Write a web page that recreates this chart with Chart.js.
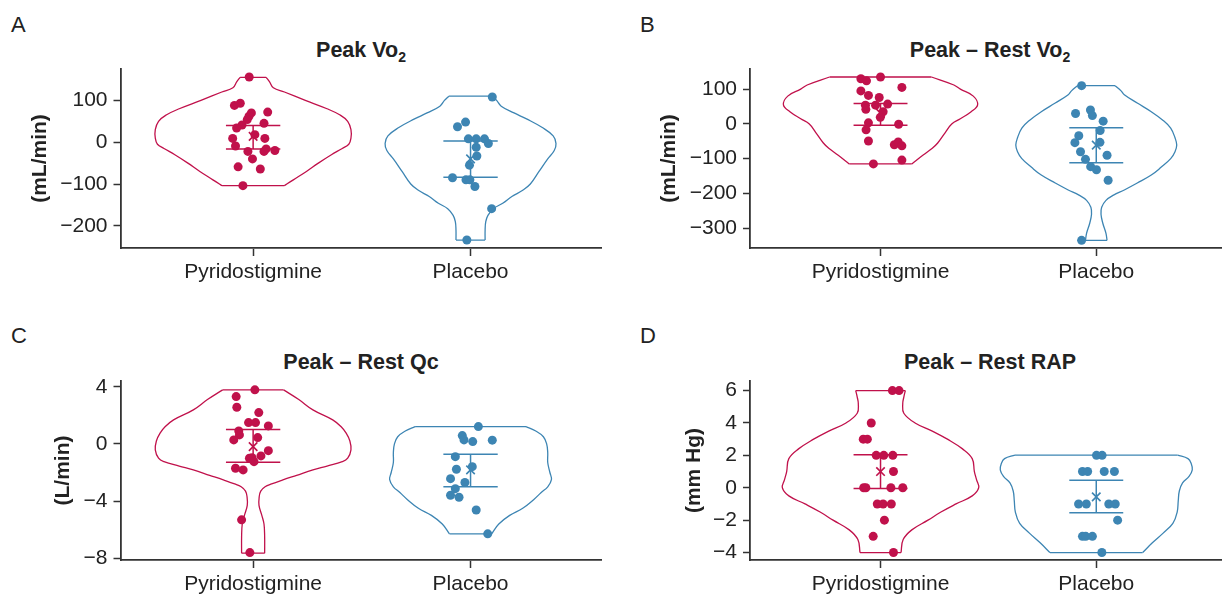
<!DOCTYPE html>
<html>
<head>
<meta charset="utf-8">
<title>Violin plots</title>
<script src="https://cdn.jsdelivr.net/npm/chart.js@4.4.1/dist/chart.umd.min.js"></script>
<style>
  html, body { margin: 0; padding: 0; background: #fff; }
  body { width: 1229px; height: 598px; position: relative; overflow: hidden;
         font-family: "Liberation Sans", Arial, sans-serif; color: #222; }
  canvas { position: absolute; }
  .letter { position: absolute; font-size: 22px; line-height: 26px; }
  .title { position: absolute; font-size: 21.5px; font-weight: bold; line-height: 26px;
           transform: translateX(-50%); white-space: nowrap; }
  .title sub { font-size: 14px; line-height: 0; }
</style>
</head>
<body>
<div class="letter" style="left:11px;top:12px;">A</div>
<div class="letter" style="left:640px;top:12px;">B</div>
<div class="letter" style="left:11px;top:323px;">C</div>
<div class="letter" style="left:640px;top:323px;">D</div>

<div class="title" style="left:361px;top:37px;">Peak Vo<sub>2</sub></div>
<div class="title" style="left:990px;top:37px;">Peak – Rest Vo<sub>2</sub></div>
<div class="title" style="left:361px;top:349px;">Peak – Rest Qc</div>
<div class="title" style="left:990px;top:349px;">Peak – Rest RAP</div>

<canvas id="chartA" width="614" height="300" style="left:0;top:0;"></canvas>
<canvas id="chartB" width="615" height="300" style="left:614px;top:0;"></canvas>
<canvas id="chartC" width="614" height="298" style="left:0;top:300px;"></canvas>
<canvas id="chartD" width="615" height="298" style="left:614px;top:300px;"></canvas>

<script>
// ---- data ----
const categories = ['Pyridostigmine', 'Placebo'];

// A: Peak VO2 (mL/min)
const aTicks = [-200, -100, 0, 100];
const aPyrY  = [156, 88, 93, 70, 62, 54, 72, 41, 34, 45, 18, 9, 9, -9, -22, -16, -22, -20, -40, -59, -64, -104];
const aPyrDx = [-0.018, -0.086, -0.059, -0.008, -0.019, -0.027, 0.067, -0.051, -0.076, 0.05, 0.008, -0.094, 0.054, -0.081, -0.024, 0.06, 0.05, 0.1, -0.003, -0.069, 0.033, -0.047];
const aPlaY  = [108, 37, 48, 8, 8, 8, -3, -12, -33, -55, -85, -90, -90, -106, -159, -234];
const aPlaDx = [0.1, -0.06, -0.023, -0.01, 0.026, 0.064, 0.082, 0.026, 0.029, -0.005, -0.083, -0.021, -0.003, 0.02, 0.097, -0.017];
const aPyrVioY = [155, 145, 130, 120, 100, 80, 65, 50, 30, 10, -5, -15, -30, -50, -70, -90, -100, -104];
const aPyrVioW = [0.06, 0.075, 0.093, 0.144, 0.24, 0.34, 0.40, 0.435, 0.45, 0.45, 0.44, 0.41, 0.36, 0.30, 0.245, 0.185, 0.155, 0.143];
const aPlaVioY = [110, 100, 86, 70, 55, 35, 15, -3, -20, -40, -70, -100, -115, -130, -146, -159, -175, -190, -210, -234];
const aPlaVioW = [0.1, 0.12, 0.141, 0.2, 0.26, 0.33, 0.38, 0.393, 0.385, 0.355, 0.315, 0.275, 0.24, 0.19, 0.148, 0.105, 0.08, 0.07, 0.067, 0.067];
const aMean = [14, -40];
const aErrLo = [-16, -84];
const aErrHi = [40, 3];

// B: Peak - Rest VO2 (mL/min)
const bTicks = [-300, -200, -100, 0, 100];
const bPyrY  = [130, 124, 135, 105, 95, 82, 76, 57, 54, 54, 42, 35, 19, 3, -1, -17, -49, -60, -52, -63, -104, -115];
const bPyrDx = [-0.091, -0.065, 0, 0.099, -0.091, -0.056, -0.006, 0.033, -0.07, -0.023, -0.068, 0.012, -0.001, -0.056, 0.084, -0.067, -0.056, 0.064, 0.082, 0.099, 0.099, -0.033];
const bPlaY  = [110, 30, 40, 24, 8, -19, -34, -54, -53, -80, -90, -102, -123, -132, -162, -335];
const bPlaDx = [-0.068, -0.096, -0.027, -0.018, 0.032, 0.018, -0.081, -0.099, 0.017, -0.073, 0.05, -0.05, -0.026, 0.001, 0.055, -0.068];
const bPyrVioY = [135, 112, 100, 80, 55, 35, 15, 0, -25, -55, -70, -90, -115];
const bPyrVioW = [0.236, 0.34, 0.37, 0.43, 0.45, 0.42, 0.37, 0.33, 0.30, 0.265, 0.24, 0.196, 0.145];
const bPlaVioY = [110, 95, 84, 60, 35, 10, -12, -40, -61, -80, -100, -125, -147, -170, -190, -205, -220, -240, -260, -285, -315, -335];
const bPlaVioW = [0.087, 0.115, 0.13, 0.19, 0.255, 0.31, 0.345, 0.365, 0.373, 0.365, 0.345, 0.3, 0.255, 0.19, 0.13, 0.08, 0.045, 0.025, 0.022, 0.03, 0.045, 0.05];
const bMean = [31, -61];
const bErrLo = [-4, -112];
const bErrHi = [59, -11];

// C: Peak - Rest Qc (L/min)
const cTicks = [-8, -4, 0, 4];
const cPyrY  = [3.78, 3.31, 2.56, 2.19, 1.49, 1.49, 1.26, 0.91, 0.63, 0.28, 0.44, -0.47, -0.84, -1.0, -0.96, -1.24, -1.70, -1.82, -5.31, -7.60];
const cPyrDx = [0.008, -0.078, -0.075, 0.026, -0.021, 0.011, 0.07, -0.066, -0.063, -0.089, 0.021, 0.07, 0.036, -0.017, -0.005, 0.004, -0.081, -0.046, -0.053, -0.015];
const cPlaY  = [1.21, 0.58, 0.28, 0.16, 0.26, -0.89, -1.59, -1.77, -2.43, -2.7, -3.13, -3.59, -3.73, -4.62, -6.29];
const cPlaDx = [0.036, -0.038, -0.03, 0.01, 0.1, -0.07, 0.008, -0.065, -0.092, -0.026, -0.07, -0.092, -0.053, 0.026, 0.079];
const cPyrVioY = [3.78, 3.1, 2.38, 1.68, 1.2, 0.75, 0.2, -0.42, -1.0, -1.24, -1.55, -1.82, -2.2, -2.52, -2.8, -3.0, -3.3, -3.7, -4.3, -5.0, -5.6, -6.5, -7.64];
const cPyrVioW = [0.14, 0.21, 0.275, 0.366, 0.405, 0.428, 0.445, 0.45, 0.435, 0.41, 0.34, 0.275, 0.2, 0.137, 0.085, 0.055, 0.035, 0.028, 0.027, 0.04, 0.05, 0.053, 0.053];
const cPlaVioY = [1.21, 0.9, 0.5, 0, -0.6, -1.3, -2.0, -2.5, -3.0, -3.4, -3.9, -4.5, -5.0, -5.6, -6.29];
const cPlaVioW = [0.255, 0.30, 0.335, 0.35, 0.355, 0.355, 0.365, 0.372, 0.355, 0.325, 0.29, 0.24, 0.18, 0.13, 0.097];
const cMean = [-0.19, -1.82];
const cErrLo = [-1.28, -3.0];
const cErrHi = [1.0, -0.72];

// D: Peak - Rest RAP (mm Hg)
const dTicks = [-4, -2, 0, 2, 4, 6];
const dPyrY  = [6, 6, 4, 3, 3, 2, 2, 2, 1, 0, 0, 0, 0, -1, -1, -1, -2, -3, -4];
const dPyrDx = [0.055, 0.086, -0.043, -0.08, -0.061, -0.02, 0.015, 0.057, 0.06, -0.078, -0.068, 0.048, 0.103, -0.015, 0.012, 0.05, 0.018, -0.034, 0.06];
const dPlaY  = [2, 2, 1, 1, 1, 1, -1, -1, -1, -1, -2, -3, -3, -3, -4];
const dPlaDx = [0.001, 0.027, -0.064, -0.04, 0.037, 0.084, -0.082, -0.046, 0.058, 0.088, 0.099, -0.064, -0.049, -0.018, 0.026];
const dPyrVioY = [6.0, 5.6, 5.2, 4.6, 4.0, 3.5, 3.0, 2.4, 1.8, 1.0, 0.5, 0.0, -0.5, -1.0, -1.5, -2.0, -2.6, -3.2, -4.0];
const dPyrVioW = [0.115, 0.108, 0.103, 0.108, 0.16, 0.24, 0.31, 0.38, 0.425, 0.435, 0.445, 0.455, 0.425, 0.35, 0.28, 0.22, 0.145, 0.105, 0.095];
const dPlaVioY = [2.02, 1.8, 1.5, 1.1, 0.7, 0.3, -0.2, -0.8, -1.5, -2.2, -2.8, -3.4, -4.0];
const dPlaVioW = [0.377, 0.425, 0.44, 0.445, 0.43, 0.40, 0.385, 0.38, 0.375, 0.355, 0.31, 0.26, 0.215];
const dMean = [1.0, -0.56];
const dErrLo = [-0.04, -1.54];
const dErrHi = [2.04, 0.47];

// ---- styling ----
const PYR = '#c0114b';
const PLA = '#3d85b3';
const AXIS = '#333';
const FONT = "'Liberation Sans', Arial, sans-serif";
const CAP = 0.125;

function violin(c, ys, ws, color) {
  const n = ys.length - 1;
  const base = { showLine: true, borderColor: color, borderWidth: 1.3, pointRadius: 0, fill: false, order: 3 };
  return [
    { ...base, tension: 0.4, data: ys.map((y, i) => ({ x: c - ws[i], y })) },
    { ...base, tension: 0.4, data: ys.map((y, i) => ({ x: c + ws[i], y })) },
    { ...base, tension: 0, spanGaps: false, data: [
      { x: c - ws[0], y: ys[0] }, { x: c + ws[0], y: ys[0] }, { x: c, y: null },
      { x: c - ws[n], y: ys[n] }, { x: c + ws[n], y: ys[n] }
    ] }
  ];
}

function errorBar(c, lo, hi, color) {
  return {
    showLine: true, borderColor: color, borderWidth: 1.5, pointRadius: 0, tension: 0, spanGaps: false, order: 2,
    data: [
      { x: c - CAP, y: hi }, { x: c + CAP, y: hi }, { x: c, y: null },
      { x: c, y: hi }, { x: c, y: lo }, { x: c, y: null },
      { x: c - CAP, y: lo }, { x: c + CAP, y: lo }
    ]
  };
}

function dots(c, ys, dx, color) {
  return { data: ys.map((y, i) => ({ x: c + dx[i], y })), pointRadius: 4.5, backgroundColor: color, borderWidth: 0, order: 1 };
}

function meanMark(c, m, color) {
  return { data: [{ x: c, y: m }], pointStyle: 'crossRot', pointRadius: 6, borderColor: color, borderWidth: 1.6, order: 0 };
}

function fmt(v) {
  return v < 0 ? '\u2212' + Math.abs(v) : String(v);
}

function makeChart(p) {
  const d = p.data;
  const datasets = [
    ...violin(1, d.pyrVioY, d.pyrVioW, PYR),
    ...violin(2, d.plaVioY, d.plaVioW, PLA),
    errorBar(1, d.errLo[0], d.errHi[0], PYR),
    errorBar(2, d.errLo[1], d.errHi[1], PLA),
    dots(1, d.pyrY, d.pyrDx, PYR),
    dots(2, d.plaY, d.plaDx, PLA),
    meanMark(1, d.mean[0], PYR),
    meanMark(2, d.mean[1], PLA)
  ];
  new Chart(document.getElementById(p.id), {
    type: 'scatter',
    data: { datasets },
    options: {
      responsive: false, animation: false, devicePixelRatio: 1,
      layout: { padding: { left: 0, top: p.area.t, right: p.w - p.area.r, bottom: 0 } },
      plugins: { legend: { display: false }, tooltip: { enabled: false } },
      events: [],
      scales: {
        x: {
          type: 'linear', min: p.xRange[0], max: p.xRange[1],
          afterBuildTicks: s => { s.ticks = categories.map((_, i) => ({ value: i + 1 })); },
          afterFit: s => { s.height = p.h - p.area.b; },
          ticks: { callback: v => categories[v - 1], font: { family: FONT, size: 21 }, color: '#222', padding: 4, maxRotation: 0, autoSkip: false },
          grid: { drawOnChartArea: false, tickLength: 8, tickColor: AXIS, tickWidth: 1.5 },
          border: { color: AXIS, width: 1.8 }
        },
        y: {
          type: 'linear', min: p.yRange[0], max: p.yRange[1],
          afterBuildTicks: s => { s.ticks = d.ticks.map(v => ({ value: v })); },
          afterFit: s => { s.width = p.area.l; },
          ticks: { callback: fmt, font: { family: FONT, size: 21 }, color: '#222', padding: 6 },
          grid: { drawOnChartArea: false, tickLength: 7, tickColor: AXIS, tickWidth: 1.5 },
          border: { color: AXIS, width: 1.8 },
          title: { display: true, text: p.yTitle, color: '#222', font: { family: FONT, size: 21, weight: 'bold' }, padding: { top: p.titlePad, bottom: 4 } }
        }
      }
    }
  });
}

const panels = [
  { id: 'chartA', w: 614, h: 300, area: { l: 120.5, r: 601, t: 69, b: 248 }, xRange: [0.39, 2.6], yRange: [-253, 175], yTitle: '(mL/min)', titlePad: 28,
    data: { ticks: aTicks, pyrY: aPyrY, pyrDx: aPyrDx, plaY: aPlaY, plaDx: aPlaDx, pyrVioY: aPyrVioY, pyrVioW: aPyrVioW, plaVioY: aPlaVioY, plaVioW: aPlaVioW, mean: aMean, errLo: aErrLo, errHi: aErrHi } },
  { id: 'chartB', w: 615, h: 300, area: { l: 136, r: 615, t: 69, b: 248 }, xRange: [0.395, 2.58], yRange: [-357, 158], yTitle: '(mL/min)', titlePad: 42.5,
    data: { ticks: bTicks, pyrY: bPyrY, pyrDx: bPyrDx, plaY: bPlaY, plaDx: bPlaDx, pyrVioY: bPyrVioY, pyrVioW: bPyrVioW, plaVioY: bPlaVioY, plaVioW: bPlaVioW, mean: bMean, errLo: bErrLo, errHi: bErrHi } },
  { id: 'chartC', w: 614, h: 298, area: { l: 120.5, r: 601, t: 81, b: 260 }, xRange: [0.39, 2.6], yRange: [-8.12, 4.4], yTitle: '(L/min)', titlePad: 50.5,
    data: { ticks: cTicks, pyrY: cPyrY, pyrDx: cPyrDx, plaY: cPlaY, plaDx: cPlaDx, pyrVioY: cPyrVioY, pyrVioW: cPyrVioW, plaVioY: cPlaVioY, plaVioW: cPlaVioW, mean: cMean, errLo: cErrLo, errHi: cErrHi } },
  { id: 'chartD', w: 615, h: 298, area: { l: 136, r: 615, t: 81, b: 260 }, xRange: [0.395, 2.58], yRange: [-4.46, 6.59], yTitle: '(mm Hg)', titlePad: 67.5,
    data: { ticks: dTicks, pyrY: dPyrY, pyrDx: dPyrDx, plaY: dPlaY, plaDx: dPlaDx, pyrVioY: dPyrVioY, pyrVioW: dPyrVioW, plaVioY: dPlaVioY, plaVioW: dPlaVioW, mean: dMean, errLo: dErrLo, errHi: dErrHi } }
];

panels.forEach(makeChart);
</script>
</body>
</html>
